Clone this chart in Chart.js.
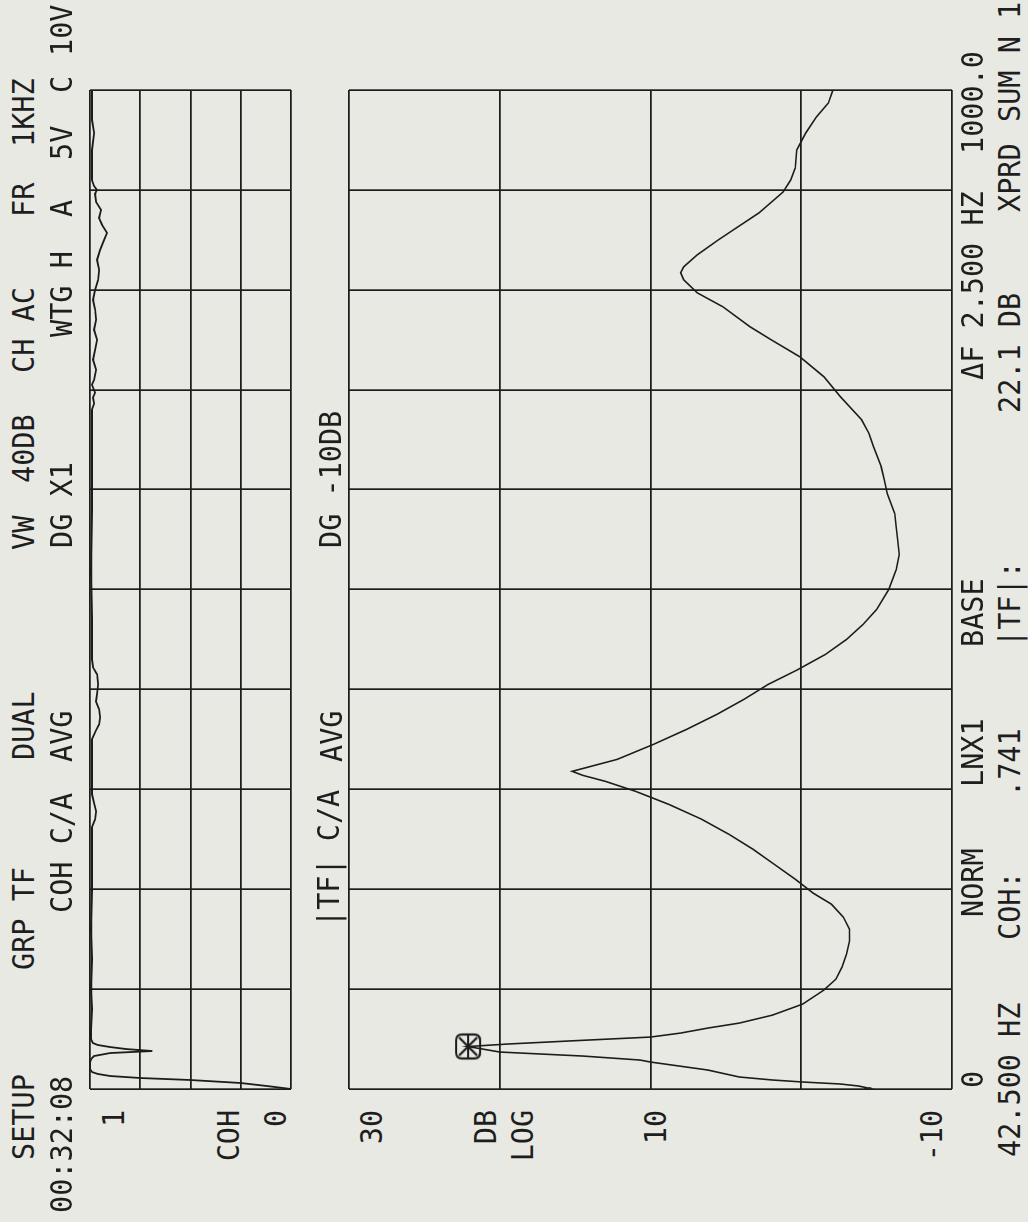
<!DOCTYPE html>
<html><head><meta charset="utf-8">
<script src="https://cdn.jsdelivr.net/npm/chart.js@4.4.1/dist/chart.umd.min.js"></script>
<style>
html,body{margin:0;padding:0;background:#e8e9e3;overflow:hidden;width:1028px;height:1222px;}
#rot{position:absolute;left:0;top:0;width:1222px;height:1028px;transform-origin:0 0;transform:translate(0px,1222px) rotate(-90deg);}
canvas{position:absolute;}
.t{position:absolute;font-family:"DejaVu Sans Mono",monospace;font-size:30px;line-height:34.92px;color:#1e1e1e;white-space:pre;}
</style></head><body>
<div id="rot">
<canvas id="coh" width="1039" height="241" style="left:113px;top:70px"></canvas>
<canvas id="tf" width="1039" height="643" style="left:113px;top:329px"></canvas>
</div>
<script>
// ---- data ----
const freqTicksHz = [0, 1000];            // frequency span (Hz)
const cohRange = [0, 1];                  // coherence axis
const dbRange = [-10, 30];                // |TF| axis (dB)

const tfFreq = [0,1,3,5,7,9,12,19,27,29,33,37,42.5,45,48,52,56,61,66,74,85,99,110,122,135,148,160,172,185,196,210,225,240,255,270,285,298,308,314,318,322,330,345,360,375,390,405,420,435,450,465,480,500,520,535,549,562,576,596,610,623,643,656,670,693,713,733,750,763,783,797,810,817,823,835,850,860,877,898,910,922,940,957,973,987,1000];
const tfDb = [-4.2,-4.4,-3.8,-2.6,-0.1,1.9,4.1,6.2,10.0,10.7,14.5,20.0,22.1,19.5,15.5,10.0,8.0,6.2,4.1,1.9,-0.1,-1.5,-2.3,-2.7,-3.0,-3.2,-3.2,-2.8,-2.0,-0.8,0.4,1.8,3.2,4.8,6.6,8.8,11.0,13.0,14.5,15.2,14.2,12.2,9.8,7.6,5.6,3.8,2.2,0.2,-1.6,-3.0,-4.1,-5.0,-5.8,-6.3,-6.5,-6.4,-6.3,-6.2,-5.7,-5.5,-5.3,-4.8,-4.5,-4.0,-2.6,-1.5,0.1,2.0,3.4,5.2,6.9,7.8,8.0,7.8,6.9,5.5,4.5,2.8,1.2,0.7,0.4,0.3,-0.3,-1.0,-1.8,-2.1];

const cohFreq = [0,3,6,9,11,13,15,17,20,26,30,33,36,38,40,42,44,46,50,60,80,100,130,160,200,240,262,270,278,286,295,320,350,359,365,372,380,388,396,405,415,422,430,470,520,580,640,680,686,692,697,705,710,720,730,740,750,760,770,780,790,800,810,820,830,840,850,857,865,872,880,888,896,900,904,910,940,957,970,1000];
const cohVal = [0,0.12,0.25,0.5,0.75,0.9,0.96,0.99,1.0,1.0,0.995,0.98,0.9,0.69,0.82,0.9,0.96,0.985,0.995,0.995,0.99,0.995,0.99,0.995,0.99,0.99,0.99,0.975,0.97,0.98,0.99,0.99,0.99,0.97,0.955,0.95,0.955,0.97,0.965,0.96,0.965,0.985,0.99,0.99,0.995,0.99,0.99,0.99,0.98,0.985,0.975,0.99,0.98,0.97,0.985,0.975,0.965,0.98,0.97,0.975,0.985,0.975,0.96,0.955,0.965,0.95,0.93,0.915,0.94,0.955,0.945,0.97,0.975,0.965,0.98,0.99,0.99,0.98,0.99,0.99];

const markerFreq = [42.5];
const markerDb = [22.1];

// ---- text annotations ----
const header1 = [["SETUP",62],["GRP TF",252],["DUAL",462],["VW",672],["40DB",739],["CH AC",849],["FR",1005],["1KHZ",1075]];
const header2 = [["00:32:08",9],["COH C/A",309],["AVG",460],["DG X1",674],["WTG H",885],["A",1005],["5V",1062],["C",1129],["10V",1166]];
const footer1 = [["0",134],["NORM",305],["LNX1",435],["BASE",575],["\u0394F 2.500 HZ",842],["1000.0",1068]];
const footer2 = [["42.500 HZ",65],["COH:",282],[".741",425],["|TF|:",575],["22.1 DB",809],["XPRD",1010],["SUM N 1",1100]];
const inner = [["|TF| C/A",295,318],["AVG",460,321],["DG -10DB",674,320]];
const yLabels = [["1",103],["COH",218],["0",265],["30",361],["DB",475],["LOG",512],["10",645],["-10",921]];

const rot = document.getElementById('rot');
function T(str, x, capTop, right){
  const d = document.createElement('div');
  d.className = 't';
  d.textContent = str;
  d.style.top = (capTop - 6.0) + 'px';
  if (right) { d.style.right = (1222 - x) + 'px'; d.style.transformOrigin = 'right center'; }
  else { d.style.left = x + 'px'; d.style.transformOrigin = 'left center'; }
  d.style.transform = 'scaleX(0.95)';
  rot.appendChild(d);
}
header1.forEach(([s,x]) => T(s, x, 13));
header2.forEach(([s,x]) => T(s, x, 51));
footer1.forEach(([s,x]) => T(s, x, 962));
footer2.forEach(([s,x]) => T(s, x, 999));
inner.forEach(([s,x,y]) => T(s, x, y));
yLabels.forEach(([s,y]) => T(s, 112, y, true));

// marker symbol
const mk = document.createElement('canvas');
mk.width = 30; mk.height = 30;
(function(){
  const c = mk.getContext('2d');
  c.strokeStyle = '#1a1a1a'; c.lineWidth = 2.2;
  const r = 6, x0 = 3, y0 = 3, w = 24, h = 24;
  c.beginPath();
  c.moveTo(x0+r,y0); c.lineTo(x0+w-r,y0); c.quadraticCurveTo(x0+w,y0,x0+w,y0+r);
  c.lineTo(x0+w,y0+h-r); c.quadraticCurveTo(x0+w,y0+h,x0+w-r,y0+h);
  c.lineTo(x0+r,y0+h); c.quadraticCurveTo(x0,y0+h,x0,y0+h-r);
  c.lineTo(x0,y0+r); c.quadraticCurveTo(x0,y0,x0+r,y0); c.closePath(); c.stroke();
  c.beginPath();
  c.moveTo(6,6); c.lineTo(24,24); c.moveTo(24,6); c.lineTo(6,24);
  c.moveTo(3,15); c.lineTo(27,15);
  c.stroke();
})();

const INK = '#1c1c1c';
function axis(min, max, step){
  return {type:'linear', min, max,
    ticks:{display:false, stepSize:step},
    grid:{color:INK, lineWidth:1.7, drawTicks:false},
    border:{display:false}};
}
function pts(xs, ys){ return xs.map((x,i)=>({x, y:ys[i]})); }
const common = {
  responsive:false, animation:false, devicePixelRatio:1,
  layout:{padding:20},
  plugins:{legend:{display:false}, tooltip:{enabled:false}},
  elements:{point:{radius:0}, line:{tension:0}}
};

new Chart(document.getElementById('coh'), {
  type:'line',
  data:{datasets:[{data:pts(cohFreq, cohVal), borderColor:INK, borderWidth:1.8, fill:false, clip:4}]},
  options:Object.assign({}, common, {
    scales:{x:axis(freqTicksHz[0], freqTicksHz[1], 100), y:axis(cohRange[0], cohRange[1], 0.25)}
  })
});

new Chart(document.getElementById('tf'), {
  type:'line',
  data:{datasets:[
    {data:pts(tfFreq, tfDb), borderColor:INK, borderWidth:1.6, fill:false},
    {data:pts(markerFreq, markerDb), showLine:false, pointStyle:mk, pointRadius:12, borderColor:INK}
  ]},
  options:Object.assign({}, common, {
    scales:{x:axis(freqTicksHz[0], freqTicksHz[1], 100), y:axis(dbRange[0], dbRange[1], 10)}
  })
});
</script>
</body></html>
